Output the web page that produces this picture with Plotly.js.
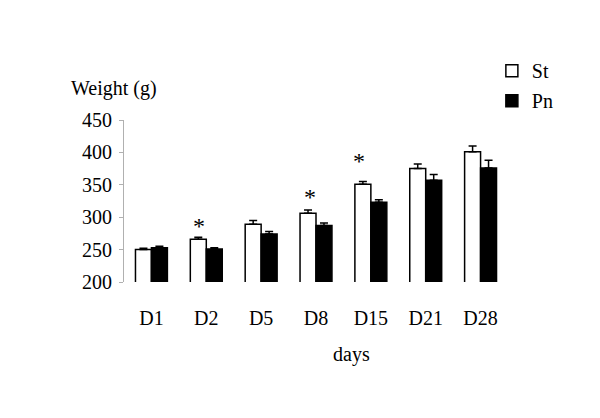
<!DOCTYPE html>
<html>
<head>
<meta charset="utf-8">
<script src="https://cdn.plot.ly/plotly-3.0.1.min.js"></script>
<style>html,body{margin:0;padding:0;background:#fff;}#chart{width:600px;height:418px;}</style>
</head>
<body>
<div id="chart"></div>
<script>
const days = ['D1', 'D2', 'D5', 'D8', 'D15', 'D21', 'D28'];
const stValues = [250, 266, 289, 306, 351, 375, 401];
const stErrors = [2, 3, 6, 5, 4, 7, 9];
const pnValues = [253, 251, 274, 287, 323, 357, 376];
const pnErrors = [2, 2, 4, 4, 4, 9, 12];
const sigDays = ['D2', 'D8', 'D15'];
const sigMarkY = [287, 331, 386];
const yTicks = [200, 250, 300, 350, 400, 450];

const FONT = '"Liberation Serif", "Times New Roman", serif';
const starShift = [-7, -6, -12];

const traces = [
  {
    type: 'bar', name: 'St', x: days, y: stValues, legendgroup: 'a',
    marker: {color: '#ffffff', line: {color: '#000000', width: 1.5}},
    error_y: {type: 'data', array: stErrors, arrayminus: stErrors.map(() => 0), symmetric: false,
              color: '#000000', thickness: 1.5, width: 4}
  },
  {
    type: 'bar', name: 'Pn', x: days, y: pnValues, legendgroup: 'b',
    marker: {color: '#000000', line: {color: '#000000', width: 1.5}},
    error_y: {type: 'data', array: pnErrors, arrayminus: pnErrors.map(() => 0), symmetric: false,
              color: '#000000', thickness: 1.5, width: 4}
  }
];

const annotations = sigDays.map((d, i) => ({
  x: d, y: sigMarkY[i], xref: 'x', yref: 'y', text: '*', showarrow: false,
  xshift: starShift[i], font: {family: FONT, size: 24, color: '#000'}, yanchor: 'middle'
}));
annotations.push({
  xref: 'paper', yref: 'paper', x: -0.143, y: 1.195, xanchor: 'left', yanchor: 'middle',
  text: 'Weight (g)', showarrow: false, font: {family: FONT, size: 20, color: '#000'}
});
annotations.push({
  xref: 'paper', yref: 'paper', x: 0.593, y: -0.45, xanchor: 'center', yanchor: 'middle',
  text: 'days', showarrow: false, font: {family: FONT, size: 20, color: '#000'}
});

const layout = {
  width: 600, height: 418,
  margin: {l: 124, r: 92, t: 120, b: 136},
  paper_bgcolor: '#fff', plot_bgcolor: '#fff',
  barmode: 'group', bargap: 0.418, bargroupgap: 0,
  font: {family: FONT, size: 20, color: '#000'},
  showlegend: true,
  legend: {x: 0.958, y: 1.425, xanchor: 'left', yanchor: 'top', bgcolor: 'rgba(0,0,0,0)',
           font: {family: FONT, size: 20, color: '#000'}, traceorder: 'grouped', tracegroupgap: 1,
           itemwidth: 30},
  xaxis: {type: 'category', showline: false, showgrid: false, zeroline: false,
          ticks: 'outside', ticklen: 18, tickcolor: 'rgba(0,0,0,0)',
          tickfont: {family: FONT, size: 20, color: '#000'}},
  yaxis: {range: [200, 450], tickvals: yTicks, ticktext: yTicks.map(String),
          showline: true, linecolor: '#b0b0b0', linewidth: 1, showgrid: false, zeroline: false,
          ticks: 'outside', ticklen: 4, tickcolor: '#b0b0b0', tickwidth: 1, ticklabelstandoff: 3,
          tickfont: {family: FONT, size: 20, color: '#000'}},
  annotations: annotations
};

Plotly.newPlot('chart', traces, layout, {displayModeBar: false, staticPlot: true});
</script>
</body>
</html>
